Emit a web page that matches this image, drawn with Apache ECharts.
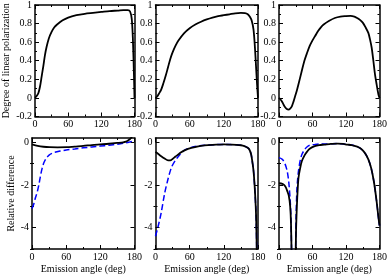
<!DOCTYPE html>
<html><head><meta charset="utf-8">
<script src="https://cdn.jsdelivr.net/npm/echarts@6/dist/echarts.min.js"></script>
<style>html,body{margin:0;padding:0;background:#fff}#c{width:390px;height:275px}</style>
</head><body><div id="c"></div>
<script>
// ---- data ----
const xTicks = [0, 60, 120, 180];
const topYTicks = [-0.2, 0, 0.2, 0.4, 0.6, 0.8, 1];
const botYTicks = [-4, -2, 0];
const botYMinor = [-5, -3, -1];

const dlp1A = [0,3,6,9,12,15,18,21,25,30,35,40,50,60,75,90,105,120,135,150,160,168,172,175,177,179,180];
const dlp1V = [0,0.02,0.05,0.12,0.23,0.34,0.46,0.55,0.64,0.71,0.76,0.79,0.835,0.865,0.89,0.905,0.915,0.925,0.935,0.94,0.945,0.945,0.93,0.85,0.65,0.25,0];

const dlp2A = [0,3,6,10,14,18,22,26,30,35,40,50,60,70,80,90,100,110,120,130,140,150,157,162,166,169,172,174,176,178,180];
const dlp2V = [0,0.015,0.045,0.09,0.16,0.24,0.33,0.42,0.49,0.56,0.615,0.695,0.75,0.79,0.82,0.845,0.865,0.88,0.89,0.9,0.91,0.915,0.913,0.9,0.87,0.83,0.74,0.6,0.4,0.18,0];

const dlp3A = [0,5,8,11,14,17,20,23,26,29,32,35,40,45,50,55,60,65,70,75,80,90,100,110,120,128,135,140,145,150,155,160,163,166,169,172,175,178,180];
const dlp3V = [0,-0.035,-0.07,-0.1,-0.12,-0.125,-0.115,-0.09,-0.04,0.02,0.08,0.15,0.27,0.39,0.48,0.56,0.62,0.67,0.72,0.76,0.79,0.83,0.86,0.875,0.88,0.882,0.875,0.86,0.84,0.81,0.76,0.7,0.63,0.54,0.4,0.25,0.14,0.04,0];

const rd1sA = [0,10,20,31,45,61,75,90,105,120,135,150,160,165,168,171,174,177,180];
const rd1sV = [-0.1,-0.17,-0.21,-0.23,-0.235,-0.23,-0.2,-0.17,-0.13,-0.1,-0.07,-0.03,0.0,0.03,0.07,0.13,0.2,0.35,0.5];
const rd1dA = [0,3,6,9,12,15,18,21,25,30,35,40,50,60,75,90,105,120,135,150,160,170,175,180];
const rd1dV = [-3.1,-2.9,-2.6,-2.35,-2.0,-1.56,-1.2,-0.95,-0.75,-0.6,-0.52,-0.47,-0.41,-0.36,-0.31,-0.26,-0.22,-0.18,-0.14,-0.09,-0.05,0.0,0.04,0.1];

const rd2sA = [0,5,10,16,22,26,30,35,40,45,51,57,63,75,86,100,110,120,133,142,150,156,162,165,168,170,172,174,176,177,178];
const rd2sV = [-0.45,-0.55,-0.65,-0.76,-0.85,-0.85,-0.78,-0.67,-0.57,-0.47,-0.38,-0.31,-0.26,-0.19,-0.15,-0.12,-0.11,-0.1,-0.11,-0.12,-0.14,-0.18,-0.26,-0.35,-0.57,-0.9,-1.3,-2.0,-3.0,-3.8,-5.5];
const rd2dA = [0,5,10,16,22,28,34,43,51,63,75,90,105,120,133,142,150,156,162,165,168,170,172,174,176,177,178];
const rd2dV = [-4.4,-3.9,-3.3,-2.4,-1.72,-1.18,-0.88,-0.57,-0.37,-0.24,-0.17,-0.13,-0.11,-0.1,-0.11,-0.12,-0.14,-0.18,-0.26,-0.35,-0.57,-0.9,-1.3,-2.0,-3.0,-3.8,-5.5];

const rd3A  = [0,6,9,12,15,17.5,20,21.5,23,26,29,30.5,32,33.5,35,38,41,46,50,55,64,72,81,93,105,115,122,130,140,145,150,155,160,165,170,175,178,180];
const rd3sV = [-1.92,-1.95,-2.0,-2.1,-2.3,-2.5,-3.0,-3.8,-6,null,-7,-4.2,-3.0,-2.2,-1.65,-1.2,-0.88,-0.6,-0.45,-0.3,-0.18,-0.13,-0.11,-0.08,-0.06,-0.08,-0.11,-0.13,-0.2,-0.27,-0.38,-0.55,-0.8,-1.2,-1.85,-2.8,-3.5,-3.9];
const rd3dV = [-0.72,-0.8,-0.92,-1.1,-1.4,-1.87,-2.7,-3.6,-6,null,-7,-3.6,-2.26,-1.7,-1.33,-0.85,-0.57,-0.34,-0.22,-0.14,-0.1,-0.08,-0.08,-0.07,-0.06,-0.08,-0.11,-0.13,-0.2,-0.27,-0.38,-0.55,-0.8,-1.2,-1.85,-2.8,-3.5,-3.9];

// ---- layout / style ----
const FONT = {fontFamily:'Liberation Serif', fontSize:10, color:'#000'};
const colLeft = [32, 155.5, 279];
const W = 102.5;
const rows = [{top:4, height:112.5, min:-0.2, max:1}, {top:138, height:112, min:-5, max:0.2}];
const grids = [], xAxes = [], yAxes = [], series = [];
const mainY = [];
const lineSt = {color:'#000', width:1.5};

rows.forEach((r, ri) => {
  colLeft.forEach((l, ci) => {
    const g = grids.length;
    grids.push({left:l, top:r.top, width:W, height:r.height, containLabel:false});
    ['bottom','top'].forEach(pos => {
      xAxes.push({type:'value', gridIndex:g, position:pos, min:0, max:180, interval:60,
        axisLine:{show:true, onZero:false, lineStyle:lineSt},
        axisTick:{show:true, inside:true, length:4, customValues:xTicks, lineStyle:{color:'#000', width:1}},
        minorTick:{show:true, splitNumber:2, length:2, lineStyle:{color:'#000', width:1}},
        axisLabel:{show:pos==='bottom', ...FONT, margin:3, customValues:xTicks, showMinLabel:true, showMaxLabel:true},
        splitLine:{show:false},
        name:(pos==='bottom' && ri===1) ? 'Emission angle (deg)' : '',
        nameLocation:'middle', nameGap:15, nameTextStyle:FONT});
    });
    ['left','right'].forEach(pos => {
      const isL = pos==='left';
      const base = {type:'value', gridIndex:g, position:pos, min:r.min, max:r.max,
        splitLine:{show:false}};
      if (ri===0) {
        if (isL) mainY[g] = yAxes.length;
        yAxes.push({...base, interval:0.2,
          axisLine:{show:true, onZero:false, lineStyle:lineSt},
          axisTick:{show:true, inside:true, length:4, lineStyle:{color:'#000', width:1}},
          minorTick:{show:true, splitNumber:2, length:2, lineStyle:{color:'#000', width:1}},
          axisLabel:{show:isL, ...FONT, margin:3, showMinLabel:true, showMaxLabel:true,
            formatter:v => String(+(+v).toFixed(1))},
          name:(isL && ci===0) ? 'Degree of linear polarization' : '',
          nameLocation:'middle', nameGap:24, nameTextStyle:FONT});
      } else {
        if (isL) mainY[g] = yAxes.length;
        yAxes.push({...base,
          axisLine:{show:true, onZero:false, lineStyle:lineSt},
          axisTick:{show:true, inside:true, length:4, customValues:botYTicks, lineStyle:{color:'#000', width:1}},
          axisLabel:{show:isL, ...FONT, margin:3, customValues:botYTicks},
          name:(isL && ci===0) ? 'Relative difference' : '',
          nameLocation:'middle', nameGap:14, nameTextStyle:FONT});
        yAxes.push({...base,
          axisLine:{show:false},
          axisTick:{show:true, inside:true, length:2, customValues:botYMinor, lineStyle:{color:'#000', width:1}},
          axisLabel:{show:false, customValues:botYMinor}});
      }
    });
  });
});

function pairs(a, v) { return a.map((x, i) => [x, v[i] === null ? '-' : v[i]]); }
function addLine(g, a, v, dashed) {
  series.push({type:'line', xAxisIndex:2*g, yAxisIndex:mainY[g], data:pairs(a, v),
    showSymbol:false, smooth:0.3, connectNulls:false, clip:true, z: dashed ? 2 : 3,
    lineStyle: dashed ? {color:'#0000ff', width:1.5, type:[6,3]} : {color:'#000', width:1.8}});
}
addLine(0, dlp1A, dlp1V, false);
addLine(1, dlp2A, dlp2V, false);
addLine(2, dlp3A, dlp3V, false);
addLine(3, rd1dA, rd1dV, true);  addLine(3, rd1sA, rd1sV, false);
addLine(4, rd2dA, rd2dV, true);  addLine(4, rd2sA, rd2sV, false);
addLine(5, rd3A, rd3dV, true);   addLine(5, rd3A, rd3sV, false);

const chart = echarts.init(document.getElementById('c'), null, {renderer:'canvas'});
chart.setOption({animation:false, backgroundColor:'#fff', grid:grids, xAxis:xAxes, yAxis:yAxes, series});
</script></body></html>
